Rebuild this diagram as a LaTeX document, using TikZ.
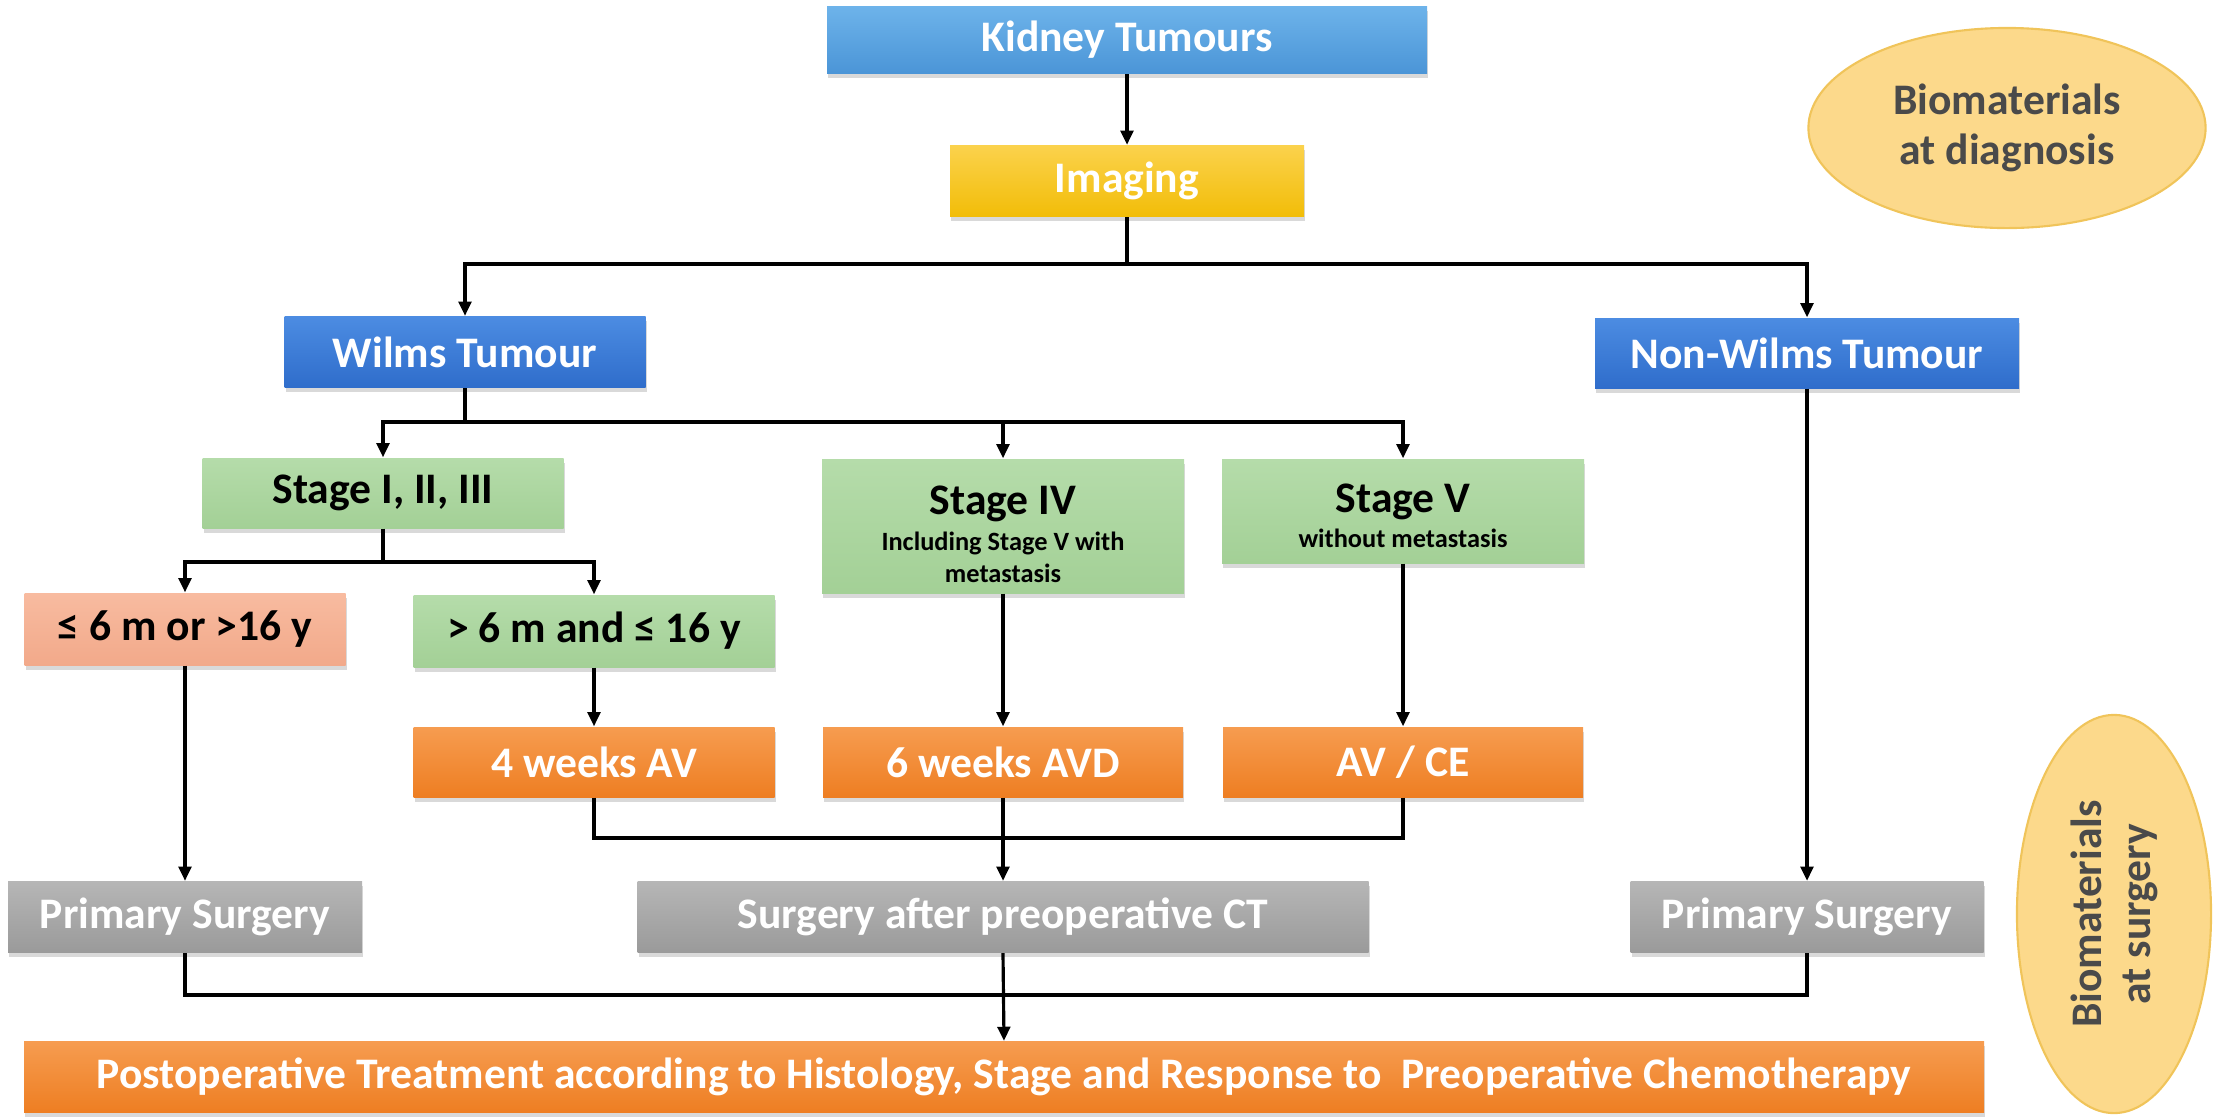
\documentclass[tikz,border=0pt]{standalone}
\usepackage{fontspec}
\setmainfont{Carlito}
\usetikzlibrary{shapes.geometric,shadows,arrows.meta}
\definecolor{kidT}{HTML}{6DB3EA}\definecolor{kidB}{HTML}{4B95D7}
\definecolor{imgT}{HTML}{FBD24C}\definecolor{imgB}{HTML}{F2BD08}
\definecolor{wilT}{HTML}{4C8CE2}\definecolor{wilB}{HTML}{2F6DCB}
\definecolor{grnT}{HTML}{B5DCAA}\definecolor{grnB}{HTML}{A3D096}
\definecolor{salT}{HTML}{F8BBA0}\definecolor{salB}{HTML}{F2A98A}
\definecolor{orT}{HTML}{F69C50}\definecolor{orB}{HTML}{EE7E22}
\definecolor{gryT}{HTML}{B6B6B6}\definecolor{gryB}{HTML}{9A9A9A}
\definecolor{ellF}{HTML}{FCD98B}\definecolor{ellD}{HTML}{F0C45A}
\definecolor{ellTxt}{HTML}{4A4A4A}
\begin{document}
\begin{tikzpicture}[x=0.01cm,y=-0.01cm,
  font=\bfseries\fontsize{12.4}{14}\selectfont,
  box/.style 2 args={rectangle, inner sep=0pt, align=center,
    minimum width=#1*0.01cm, minimum height=#2*0.01cm,
    drop shadow={shadow xshift=0.3pt, shadow yshift=-1.3pt, opacity=0.3}},
  bluebox/.style={top color=kidT, bottom color=kidB, text=white},
  yelbox/.style={top color=imgT, bottom color=imgB, text=white},
  wilbox/.style={top color=wilT, bottom color=wilB, text=white},
  grnbox/.style={top color=grnT, bottom color=grnB, text=black},
  salbox/.style={top color=salT, bottom color=salB, text=black},
  orbox/.style={top color=orT, bottom color=orB, text=white},
  grybox/.style={top color=gryT, bottom color=gryB, text=white},
  boxtext/.style={align=center, inner sep=0pt, text=black},
  bio/.style={ellipse, fill=ellF, draw=ellD, line width=0.6pt, text=ellTxt,
    align=center, inner sep=0pt},
  conn/.style={draw=black, line width=0.9pt},
  arr/.style={conn, -{Triangle[length=4pt,width=3.6pt]}}
]
\useasboundingbox (0,0) rectangle (2220,1117);

% nodes
\node[box={600}{67}, bluebox] (kid) at (1127,40) {Kidney Tumours};
\node[box={354}{71}, yelbox] (img) at (1127,181) {Imaging};
\node[box={361}{71}, wilbox] (wilms) at (465,352) {Wilms Tumour};
\node[box={424}{70}, wilbox] (nonw) at (1807,353) {Non-Wilms Tumour};

\node[box={361}{70}, grnbox] (s13) at (383,493) {Stage I, II, III};
\node[box={362}{134}, grnbox] (s4) at (1003,526) {};
\node[boxtext] (s4t) at (1003,552)
  {Stage IV\\[-3.8pt]{\fontsize{7.5}{8.5}\selectfont Including Stage V with}\\[-5pt]{\fontsize{7.5}{8.5}\selectfont metastasis}\\[-8pt]\strut};
\node[box={362}{104}, grnbox] (s5) at (1403,511) {};
\node[boxtext] (s5t) at (1403,516)
  {Stage V\\[-4.1pt]{\fontsize{7.5}{8.5}\selectfont without metastasis}};

\node[box={321}{72}, salbox] (le6) at (185,629) {≤ 6 m or >16 y};
\node[box={361}{72}, grnbox] (gt6) at (594,631) {> 6 m and ≤ 16 y};

\node[box={361}{70}, orbox] (av4) at (594,762) {4 weeks AV};
\node[box={360}{70}, orbox] (avd) at (1003,762) {6 weeks AVD};
\node[box={360}{70}, orbox] (avce) at (1403,762) {AV / CE};

\node[box={354}{71}, grybox] (ps1) at (185,917) {Primary Surgery};
\node[box={731}{71}, grybox] (sct) at (1003,917) {Surgery after preoperative CT};
\node[box={353}{71}, grybox] (ps2) at (1807,917) {Primary Surgery};

\node[box={1960}{71}, orbox] (post) at (1004,1077)
  {Postoperative Treatment according to Histology, Stage and Response to\ \ Preoperative Chemotherapy};

\node[bio, minimum width=3.97cm, minimum height=2.0cm] (bdiag) at (2007,128)
  {Biomaterials\\at diagnosis};
\node[bio, rotate=90, minimum width=3.98cm, minimum height=1.94cm] (bsurg) at (2114,914)
  {Biomaterials\\at surgery};

% junctions
\coordinate (j1) at (1127,264);
\coordinate (j2) at (465,422);
\coordinate (j3) at (383,562);
\coordinate (j4) at (1003,838);
\coordinate (j5) at (1003,995);

% connectors
\draw[arr] (kid.south) -- (img.north);
\draw[conn] (img.south) -- (j1);
\draw[arr] (j1) -| (wilms.north);
\draw[arr] (j1) -| (nonw.north);

\draw[conn] (wilms.south) -- (j2);
\draw[arr] (j2) -| (s13.north);
\draw[arr] (j2) -| (s4.north);
\draw[arr] (j2) -| (s5.north);

\draw[conn] (s13.south) -- (j3);
\draw[arr] (j3) -| (le6.north);
\draw[arr] (j3) -| (gt6.north);

\draw[arr] (le6.south) -- (ps1.north);
\draw[arr] (gt6.south) -- (av4.north);
\draw[arr] (s4.south) -- (avd.north);
\draw[arr] (s5.south) -- (avce.north);
\draw[arr] (nonw.south) -- (ps2.north);

\draw[conn] (av4.south) |- (j4);
\draw[conn] (avce.south) |- (j4);
\draw[arr] (avd.south) -- (sct.north);

\draw[conn] (ps1.south) |- (j5);
\draw[conn] (ps2.south) |- (j5);
\draw[arr] (sct.south) -- (post.north);
\end{tikzpicture}
\end{document}
